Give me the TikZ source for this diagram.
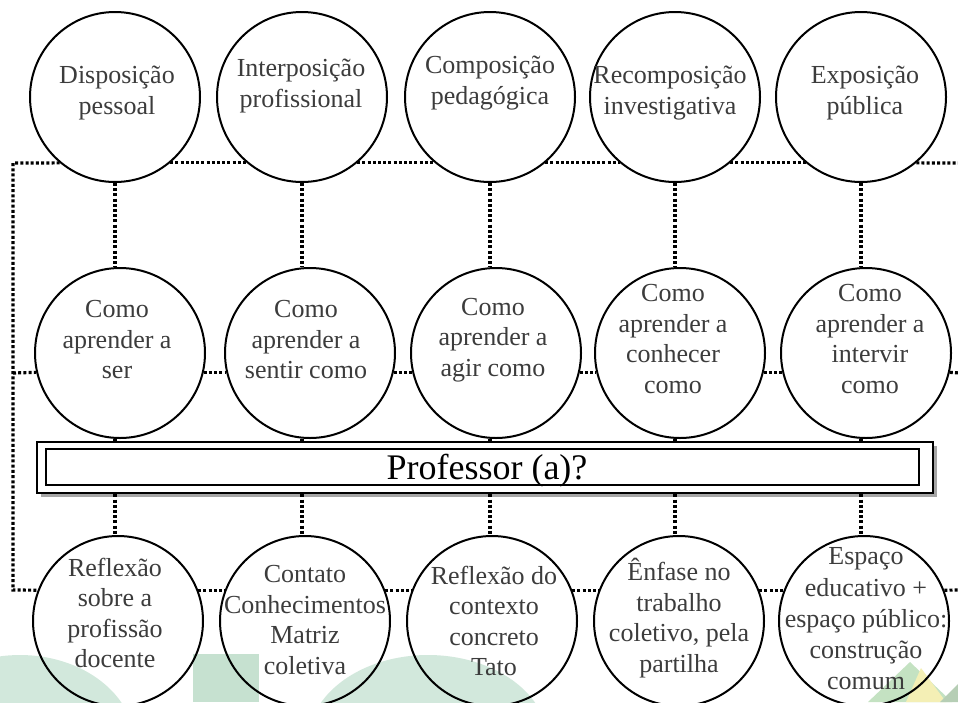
\documentclass[tikz,border=0pt]{standalone}
\usepackage{fontspec}
\setmainfont{Liberation Serif}
\usetikzlibrary{calc}
\definecolor{txtgray}{HTML}{3C3C3C}
\definecolor{mint}{HTML}{D2E8DC}
\definecolor{mintdark}{HTML}{C6E1D0}
\definecolor{leaf}{HTML}{C4E2C2}
\definecolor{sun}{HTML}{F4EFB5}
\begin{document}
\begin{tikzpicture}[x=1pt,y=-1pt,
  ring/.style={circle,draw=black,line width=2pt,minimum size=170pt,inner sep=0pt},
  ringtext/.style={align=center,font=\fontsize{26}{30.5}\selectfont,text=txtgray,inner sep=0pt},
  dotline/.style={line width=3.2pt,dash pattern=on 3pt off 2.2pt,black},
  framebox/.style={draw=black,line width=2.6pt,fill=white,minimum width=896pt,minimum height=51pt,inner sep=0pt}
]
\clip (0,0) rectangle (958,702);
\fill[white] (0,0) rectangle (958,702);

% pale shapes along the lower edge
\fill[mint] (20,745) ellipse [x radius=115, y radius=90];
\fill[mintdark] (193,654) rectangle (259,702);
\fill[mint] (428,742) ellipse [x radius=120, y radius=87];
\fill[leaf] (868,702) -- (910,662) -- (952,702) -- cycle;
\fill[sun] (906,702) -- (921,668) -- (946,702) -- cycle;
\fill[leaf!80!gray] (940,702) -- (958,684) -- (958,702) -- cycle;

% first row
\node[ring] (t1) at (115,97) {};
\node[ring] (t2) at (302,97) {};
\node[ring] (t3) at (490,97) {};
\node[ring] (t4) at (675,97) {};
\node[ring] (t5) at (861,97) {};
% second row
\node[ring] (m1) at (120,353) {};
\node[ring] (m2) at (310,353) {};
\node[ring] (m3) at (496,353) {};
\node[ring] (m4) at (680,353) {};
\node[ring] (m5) at (866,353) {};
% third row
\node[ring] (b1) at (118,621) {};
\node[ring] (b2) at (305,621) {};
\node[ring] (b3) at (492,621) {};
\node[ring] (b4) at (679,621) {};
\node[ring] (b5) at (864,621) {};

% labels inside the circles
\node[ringtext] (lt1) at (117,93) {Disposição\\pessoal};
\node[ringtext] (lt2) at (301,86) {Interposição\\profissional};
\node[ringtext] (lt3) at (490,83) {Composição\\pedagógica};
\node[ringtext] (lt4) at (670,93) {Recomposição\\investigativa};
\node[ringtext] (lt5) at (865,93) {Exposição\\pública};

\node[ringtext] (lm1) at (117,340) {Como\\aprender a\\ser};
\node[ringtext] (lm2) at (306,340) {Como\\aprender a\\sentir como};
\node[ringtext] (lm3) at (493,340) {Como\\aprender a\\agir como};
\node[ringtext] (lm4) at (673,339) {Como\\aprender a\\conhecer\\como};
\node[ringtext] (lm5) at (870,339) {Como\\aprender a\\intervir\\como};

\node[ringtext] (lb1) at (115,613) {Reflexão\\sobre a\\profissão\\docente};
\node[ringtext] (lb2) at (305,620) {Contato\\Conhecimentos\\Matriz\\coletiva};
\node[ringtext] (lb3) at (494,621) {Reflexão do\\contexto\\concreto\\Tato};
\node[ringtext] (lb4) at (679,618) {Ênfase no\\trabalho\\coletivo, pela\\partilha};
\node[ringtext,font=\fontsize{26}{31.2}\selectfont] (lb5) at (866,619) {Espaço\\educativo +\\espaço público:\\construção\\comum};

% central frame
\fill[black!35] (41,446) rectangle (937,497);
\node[framebox] (box) at (485,467.5) {};
\draw[line width=2pt] ($(box.north west)+(10,8)$) rectangle ($(box.south east)+(-15,-9)$);
\node[font=\fontsize{36}{40}\selectfont,inner sep=0pt] (prof) at (487,471) {Professor (a)?};

% corner and edge points of the dotted frame
\coordinate (cTL) at (13,163);
\coordinate (cML) at (13,373);
\coordinate (cBL) at (13,590);
\coordinate (cTR) at (960,163);
\coordinate (cMR) at (960,373);
\coordinate (cBR) at (960,590);

% dotted connectors
\draw[dotline] (t1.-130) -- (cTL) -- (cBL) -- (b1.159);
\draw[dotline] (cML) -- (m1.-167);
\foreach \a/\b in {t1/t2,t2/t3,t3/t4,t4/t5}{
  \draw[dotline] (\a.-50) -- (\b.-130);
}
\draw[dotline] (t5.-50) -- (cTR);
\foreach \a/\b in {m1/m2,m2/m3,m3/m4,m4/m5}{
  \draw[dotline] (\a.-13) -- (\b.-167);
}
\draw[dotline] (m5.-13) -- (cMR);
\foreach \a/\b in {b1/b2,b2/b3,b3/b4,b4/b5}{
  \draw[dotline] (\a.21) -- (\b.159);
}
\draw[dotline] (b5.21) -- (cBR);

\foreach \t/\m/\b in {t1/m1/b1,t2/m2/b2,t3/m3/b3,t4/m4/b4,t5/m5/b5}{
  \draw[dotline] (\t.south) -- (\t.south |- \m.north);
  \draw[dotline] (\t.south |- \m.south) -- (\t.south |- box.north);
  \draw[dotline] (\t.south |- box.south) -- (\t.south |- \b.north);
}
\end{tikzpicture}
\end{document}
